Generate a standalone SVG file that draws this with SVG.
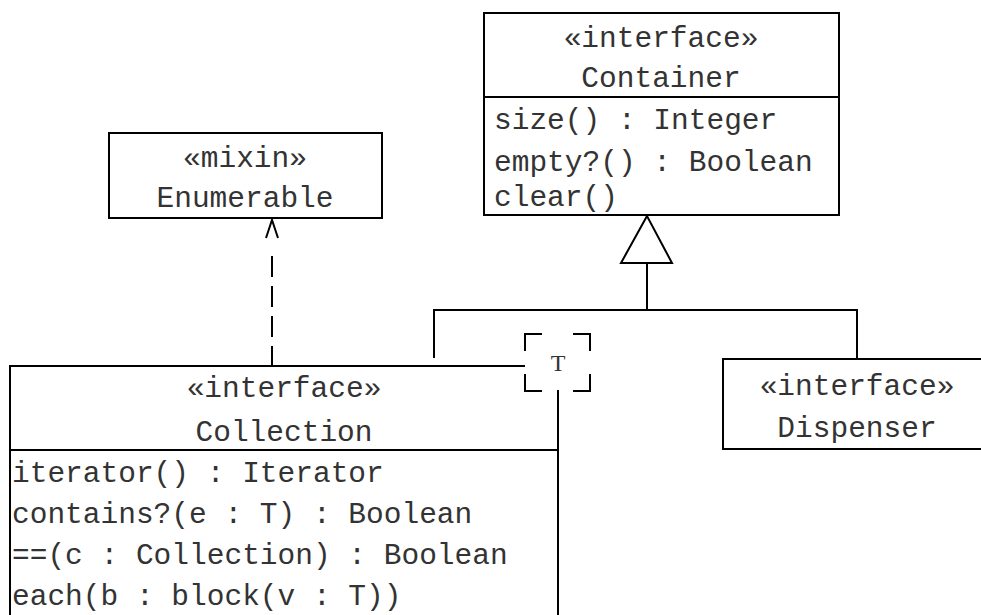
<svg xmlns="http://www.w3.org/2000/svg" width="981" height="615" viewBox="0 0 981 615">
<style>
.box{fill:#fff;stroke:#000;stroke-width:2}
.ln{fill:none;stroke:#000;stroke-width:2}
text{font-family:"Liberation Mono","Courier New",monospace;font-size:29.5px;fill:#333}
.c{text-anchor:middle}
.tp{font-family:"Liberation Serif","Times New Roman",serif;font-size:24px}
</style>
<g id="connectors">
<path class="ln" d="M272,367 L272,249" stroke-dasharray="21 9"/>
<path class="ln" d="M266,238 L272,220 L278,238"/>
<polygon points="647,216 621,263 672,263" fill="#fff" stroke="#000" stroke-width="2"/>
<path class="ln" d="M647,263 L647,310 M434,358 L434,310 L857,310 L857,358"/>
</g>
<g id="container">
<rect class="box" x="484" y="13" width="355" height="202"/>
<line class="ln" x1="484" y1="97" x2="839" y2="97"/>
<text class="c" x="661" y="47">«interface»</text>
<text class="c" x="661" y="87">Container</text>
<text x="494" y="129">size() : Integer</text>
<text x="494" y="171">empty?() : Boolean</text>
<text x="494" y="206">clear()</text>
</g>
<g id="enumerable">
<rect class="box" x="109" y="133" width="273" height="85"/>
<text class="c" x="245" y="167">«mixin»</text>
<text class="c" x="245" y="207">Enumerable</text>
</g>
<g id="collection">
<path class="ln" d="M10,620 L10,366 L525,366 M558,390 L558,620"/>
<line class="ln" x1="10" y1="450" x2="558" y2="450"/>
<text class="c" x="284" y="397">«interface»</text>
<text class="c" x="284" y="441">Collection</text>
<text x="12" y="482">iterator() : Iterator</text>
<text x="12" y="523">contains?(e : T) : Boolean</text>
<text x="12" y="564">==(c : Collection) : Boolean</text>
<text x="12" y="605">each(b : block(v : T))</text>
</g>
<g id="template">
<path class="ln" d="M525,351 L525,334 L542,334 M573,334 L590,334 L590,351 M590,374 L590,391 L573,391 M542,391 L525,391 L525,374"/>
<text class="c tp" x="558" y="371">T</text>
</g>
<g id="dispenser">
<rect class="box" x="723" y="359" width="290" height="90"/>
<text class="c" x="857" y="395">«interface»</text>
<text class="c" x="857" y="437">Dispenser</text>
</g>
</svg>
